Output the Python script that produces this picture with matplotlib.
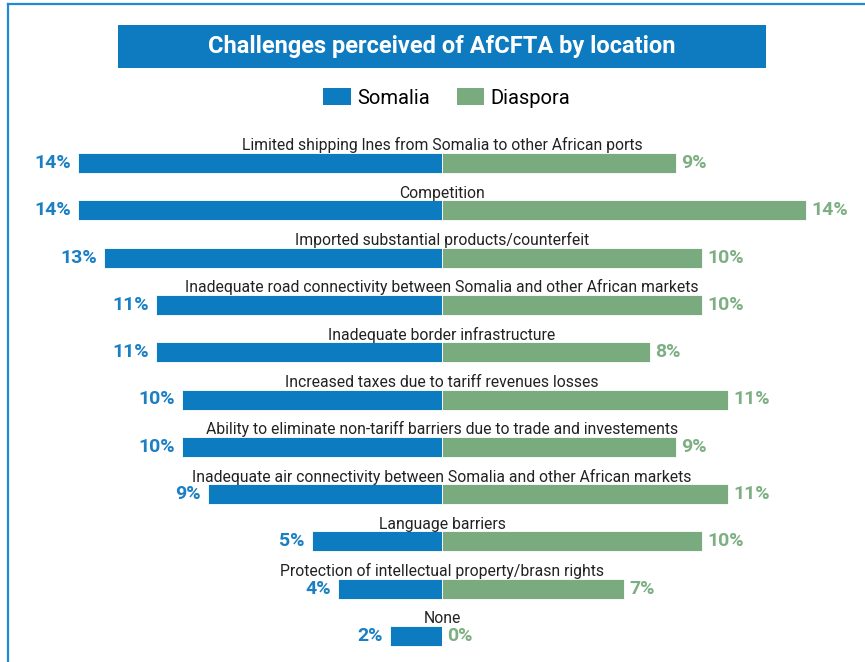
import matplotlib
matplotlib.use("Agg")
import matplotlib.pyplot as plt
from matplotlib.patches import Rectangle, Patch
from matplotlib.lines import Line2D

categories = [
    "Limited shipping lnes from Somalia to other African ports",
    "Competition",
    "Imported substantial products/counterfeit",
    "Inadequate road connectivity between Somalia and other African markets",
    "Inadequate border infrastructure",
    "Increased taxes due to tariff revenues losses",
    "Ability to eliminate non-tariff barriers due to trade and investements",
    "Inadequate air connectivity between Somalia and other African markets",
    "Language barriers",
    "Protection of intellectual property/brasn rights",
    "None",
]
somalia = [14, 14, 13, 11, 11, 10, 10, 9, 5, 4, 2]
diaspora = [9, 14, 10, 10, 8, 11, 9, 11, 10, 7, 0]
series_names = ["Somalia", "Diaspora"]
title = "Challenges perceived of AfCFTA by location"

BLUE = "#0C7BC0"
GREEN = "#79AB7E"
BLUE_TXT = "#1B7FC3"
GREEN_TXT = "#7DAF83"

W, H = 865, 662
plt.rcParams["font.family"] = ["Roboto", "DejaVu Sans"]
fig = plt.figure(figsize=(W / 100, H / 100), dpi=100)
fig.patch.set_facecolor("white")

ax = fig.add_axes([0, 0, 1, 1])
px_per_unit = 26.0
cx = 442.0
ax.set_xlim(-cx / px_per_unit, (W - cx) / px_per_unit)
row0, rowstep = 163.0, 47.3
ax.set_ylim((H - row0) / rowstep, -row0 / rowstep)
ax.axis("off")

ys = list(range(len(categories)))
bh = 20 / rowstep
ax.barh(ys, [-v for v in somalia], height=bh, color=BLUE, edgecolor="white", linewidth=0.6)
ax.barh(ys, diaspora, height=bh, color=GREEN, edgecolor="white", linewidth=0.6)

for y, cat, s, d in zip(ys, categories, somalia, diaspora):
    ax.text(0, y - 0.265, cat, ha="center", va="baseline", fontsize=11.3, color="#222222")
    ax.text(-s - 0.27, y, f"{s}%", ha="right", va="center", fontsize=14, fontweight="bold", color=BLUE_TXT)
    ax.text(d + 0.2, y, f"{d}%", ha="left", va="center", fontsize=14, fontweight="bold", color=GREEN_TXT)

# Title box
fig.patches.append(Rectangle((118 / W, 1 - 68 / H), (766 - 118) / W, (68 - 25) / H,
                             transform=fig.transFigure, facecolor="#0E7AC0", edgecolor="none", zorder=1))
fig.text(442 / W, 1 - 47 / H, title, ha="center", va="center", fontsize=17,
         fontweight="bold", color="white", zorder=2)

# Legend
handles = [Patch(facecolor=BLUE, edgecolor="none"), Patch(facecolor=GREEN, edgecolor="none")]
fig.legend(handles, series_names, loc="center", bbox_to_anchor=(447 / W, 1 - 98 / H), ncol=2,
           frameon=False, fontsize=14.5, handlelength=1.35, handleheight=0.85,
           columnspacing=1.3, handletextpad=0.35)

# Outer border lines
fig.add_artist(Line2D([8 / W, 1], [1 - 4 / H, 1 - 4 / H], transform=fig.transFigure, color="#1E8BD3", lw=1.6))
fig.add_artist(Line2D([8 / W, 8 / W], [0, 1 - 4 / H], transform=fig.transFigure, color="#1E8BD3", lw=1.6))

fig.savefig("out.png", dpi=100)
